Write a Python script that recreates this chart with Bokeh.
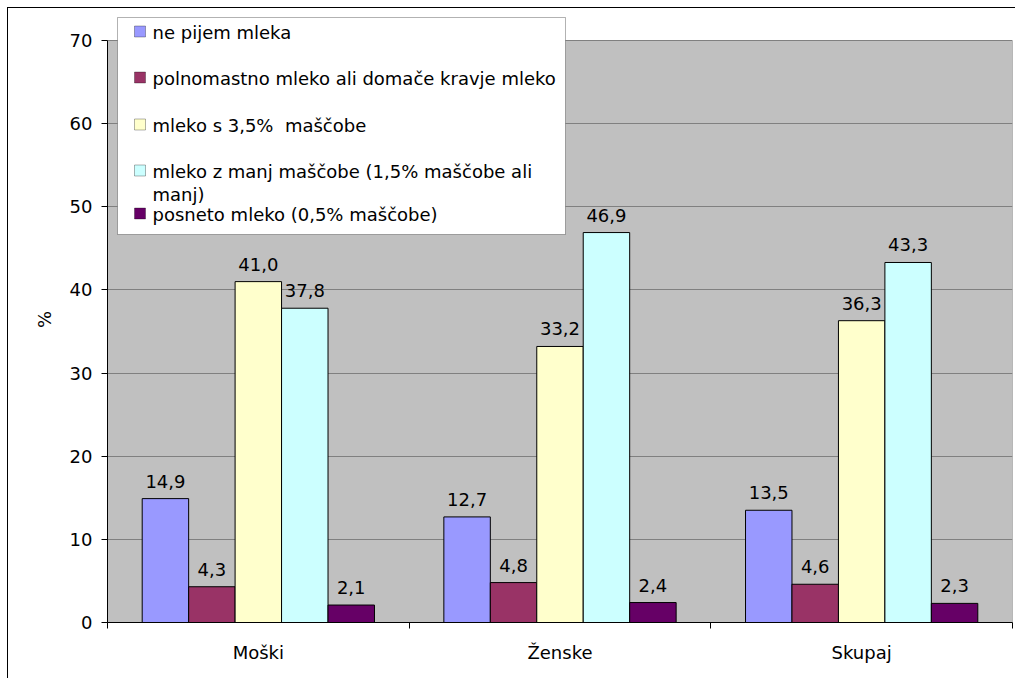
from bokeh.plotting import figure
from bokeh.models import Range1d, FixedTicker, ColumnDataSource, LabelSet, Label, BoxAnnotation
from bokeh.core.properties import value
from bokeh.embed import file_html
from bokeh.resources import INLINE

# ---- data -------------------------------------------------------------
categories = ["Moški", "Ženske", "Skupaj"]
series_names = [
    "ne pijem mleka",
    "polnomastno mleko ali domače kravje mleko",
    "mleko s 3,5%\u00a0 maščobe",
    "mleko z manj maščobe (1,5% maščobe ali\nmanj)",
    "posneto mleko (0,5% maščobe)",
]
ne_pijem = [14.9, 12.7, 13.5]
polnomastno = [4.3, 4.8, 4.6]
mleko_35 = [41.0, 33.2, 36.3]
mleko_15 = [37.8, 46.9, 43.3]
posneto = [2.1, 2.4, 2.3]
series_values = [ne_pijem, polnomastno, mleko_35, mleko_15, posneto]
colors = ["#9999FF", "#993366", "#FFFFCC", "#CCFFFF", "#660066"]
y_ticks = [0, 10, 20, 30, 40, 50, 60, 70]
Y_MAX = 70

# ---- layout (page pixels) --------------------------------------------
PAGE_W, PAGE_H = 1016, 679
EDGE = 7                       # outer chart border line
OFF = EDGE + 1                 # canvas origin inside the border
PL, PR, PT, PB = 107, 1012, 40, 622     # grey plot area
FRAME_TOP = 16                 # drawing frame reaches up to the legend
FONT = "DejaVu Sans"
FS = "18px"
BW = 0.154                     # bar width in category units

W, H = PAGE_W - OFF, PAGE_H - OFF
px_per_unit = (PB - PT) / Y_MAX
y_top = (PB - FRAME_TOP) / px_per_unit

p = figure(width=W, height=H,
           x_range=Range1d(0, len(categories)), y_range=Range1d(0, y_top),
           output_backend="svg", toolbar_location=None,
           min_border_left=PL - OFF, min_border_right=PAGE_W - PR,
           min_border_top=FRAME_TOP - OFF, min_border_bottom=PAGE_H - PB,
           margin=(EDGE, 0, 0, EDGE))
p.styles = {"border-top": "1px solid black", "border-left": "1px solid black"}
p.background_fill_color = "white"
p.border_fill_color = "white"
p.outline_line_color = None


def dx(px):
    return (px - PL) / (PR - PL) * len(categories)


def dy(py):
    return (PB - py) / px_per_unit


# grey plot area
p.quad(left=0, right=len(categories), bottom=0, top=Y_MAX,
       fill_color="#C0C0C0", line_color="#808080", line_width=1, level="image")

# ---- bars and value labels -------------------------------------------
for j, vals in enumerate(series_values):
    xs = [i + 0.5 + (j - 2) * BW for i in range(len(categories))]
    src = ColumnDataSource(dict(
        x=xs, top=vals,
        txt=[f"{v:.1f}".replace(".", ",") for v in vals]))
    p.vbar(x="x", top="top", width=BW, source=src,
           fill_color=colors[j], line_color="black", line_width=1)
    p.add_layout(LabelSet(x="x", y="top", text="txt", source=src,
                          y_offset=11, text_align="center",
                          text_baseline="alphabetic",
                          text_font=value(FONT), text_font_size=value(FS),
                          text_color="black"))

# ---- axes and grid ---------------------------------------------------
p.yaxis.ticker = FixedTicker(ticks=y_ticks)
p.yaxis.bounds = (0, Y_MAX)
p.yaxis.axis_label = "%"
p.yaxis.axis_label_text_font = FONT
p.yaxis.axis_label_text_font_size = FS
p.yaxis.axis_label_text_font_style = "normal"
p.yaxis.axis_label_text_color = "black"
p.yaxis.axis_label_standoff = 12
p.yaxis.major_label_text_font = FONT
p.yaxis.major_label_text_font_size = FS
p.yaxis.major_label_text_color = "black"
p.yaxis.major_label_standoff = 9
p.yaxis.major_tick_out = 6
p.yaxis.major_tick_in = 0
p.yaxis.minor_tick_out = 0
p.yaxis.axis_line_color = "black"
p.yaxis.major_tick_line_color = "black"

p.xaxis.ticker = FixedTicker(ticks=[i + 0.5 for i in range(len(categories))],
                             minor_ticks=list(range(len(categories) + 1)))
p.xaxis.major_label_overrides = {i + 0.5: c for i, c in enumerate(categories)}
p.xaxis.major_tick_out = 0
p.xaxis.major_tick_in = 0
p.xaxis.minor_tick_out = 6
p.xaxis.minor_tick_in = 0
p.xaxis.minor_tick_line_color = "black"
p.xaxis.axis_line_color = "black"
p.xaxis.major_label_text_font = FONT
p.xaxis.major_label_text_font_size = FS
p.xaxis.major_label_text_color = "black"
p.xaxis.major_label_standoff = 13

p.xgrid.visible = False
p.ygrid.ticker = FixedTicker(ticks=y_ticks[1:-1])
p.ygrid.grid_line_color = "#808080"
p.ygrid.grid_line_width = 1

# ---- legend ----------------------------------------------------------
p.add_layout(BoxAnnotation(left=dx(117), right=dx(565), top=dy(17), bottom=dy(234),
                           fill_color="white", fill_alpha=1,
                           line_color="black", line_width=1))
row_y = [31, 77, 124, 170, 213]
for j, name in enumerate(series_names):
    cy = row_y[j]
    p.add_layout(BoxAnnotation(left=dx(134), right=dx(145), top=dy(cy - 5.5), bottom=dy(cy + 5.5),
                               fill_color=colors[j], fill_alpha=1,
                               line_color="black", line_width=1))
    p.add_layout(Label(x=dx(152), y=dy(cy - 10), text=name,
                       text_baseline="top", text_align="left",
                       text_line_height=1.1,
                       text_font=FONT, text_font_size=FS, text_color="black"))

open("out.html", "w").write(file_html(p, INLINE))
